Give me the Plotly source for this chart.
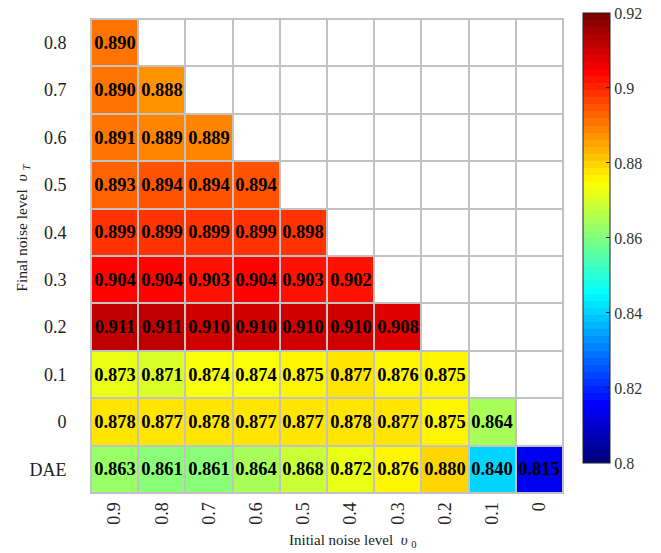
import plotly.graph_objects as go

x_labels = ["0.9", "0.8", "0.7", "0.6", "0.5", "0.4", "0.3", "0.2", "0.1", "0"]
y_labels = ["0.8", "0.7", "0.6", "0.5", "0.4", "0.3", "0.2", "0.1", "0", "DAE"]

row_08 = [0.890]
row_07 = [0.890, 0.888]
row_06 = [0.891, 0.889, 0.889]
row_05 = [0.893, 0.894, 0.894, 0.894]
row_04 = [0.899, 0.899, 0.899, 0.899, 0.898]
row_03 = [0.904, 0.904, 0.903, 0.904, 0.903, 0.902]
row_02 = [0.911, 0.911, 0.910, 0.910, 0.910, 0.910, 0.908]
row_01 = [0.873, 0.871, 0.874, 0.874, 0.875, 0.877, 0.876, 0.875]
row_00 = [0.878, 0.877, 0.878, 0.877, 0.877, 0.878, 0.877, 0.875, 0.864]
row_dae = [0.863, 0.861, 0.861, 0.864, 0.868, 0.872, 0.876, 0.880, 0.840, 0.815]

cbar_vals = [0.80, 0.82, 0.84, 0.86, 0.88, 0.90, 0.92]
cbar_text = ["0.8", "0.82", "0.84", "0.86", "0.88", "0.9", "0.92"]

rows = [row_08, row_07, row_06, row_05, row_04, row_03, row_02, row_01, row_00, row_dae]
n = len(x_labels)
z = [r + [None] * (n - len(r)) for r in rows]
txt = [["%.3f" % v for v in r] + [""] * (n - len(r)) for r in rows]

# MATLAB-like jet colormap, 64 discrete levels
def jet(t):
    def c(v):
        return max(0.0, min(1.0, v))
    r = c(1.5 - abs(4 * t - 3))
    g = c(1.5 - abs(4 * t - 2))
    b = c(1.5 - abs(4 * t - 1))
    return "rgb(%d,%d,%d)" % (round(r * 255), round(g * 255), round(b * 255))

N = 64
cs = []
for i in range(N):
    col = jet(i / (N - 1))
    cs.append([i / N, col])
    cs.append([(i + 1) / N, col])

FONT = "Liberation Serif, Times New Roman, serif"

fig = go.Figure()
fig.add_trace(go.Heatmap(
    x=x_labels, y=y_labels, z=[[0] * n for _ in y_labels],
    colorscale=[[0, "white"], [1, "white"]], showscale=False,
    xgap=2, ygap=2, hoverinfo="skip",
))
fig.add_trace(go.Heatmap(
    x=x_labels, y=y_labels, z=z, text=txt,
    texttemplate="<b>%{text}</b>",
    textfont=dict(family=FONT, size=18.5, color="black"),
    colorscale=cs, zmin=0.80, zmax=0.92,
    xgap=2, ygap=2,
    colorbar=dict(
        x=1.0424, xanchor="left", xpad=0,
        y=1.0127, yanchor="top", ypad=0,
        len=450, lenmode="pixels",
        thickness=27, outlinewidth=1, outlinecolor="#222",
        tickvals=cbar_vals, ticktext=cbar_text,
        ticks="inside", ticklen=4, tickcolor="#222",
        tickfont=dict(family=FONT, size=16, color="#333"),
    ),
))

fig.update_layout(
    width=661, height=553,
    margin=dict(l=91, r=98, t=19, b=60, autoexpand=False),
    plot_bgcolor="#c2c2c2", paper_bgcolor="white",
    font=dict(family=FONT, color="#222"),
    xaxis=dict(type="category", categoryorder="array", categoryarray=x_labels,
               tickangle=-90, tickfont=dict(family=FONT, size=18, color="#222"),
               ticks="", showgrid=False, zeroline=False, automargin=False,
               showline=True, linecolor="#c2c2c2", linewidth=1, mirror=True,
               ticklabelstandoff=1),
    yaxis=dict(type="category", categoryorder="array", categoryarray=y_labels,
               autorange="reversed", tickfont=dict(family=FONT, size=18, color="#222"),
               ticks="", showgrid=False, zeroline=False, automargin=False,
               showline=True, linecolor="#c2c2c2", linewidth=1, mirror=True,
               ticklabelstandoff=20),
    annotations=[
        dict(text="Initial noise level  <i>υ</i> <sub>0</sub>", xref="paper", yref="paper",
             x=0.555, y=-0.101, showarrow=False, xanchor="center", yanchor="middle",
             font=dict(family=FONT, size=15, color="#222")),
        dict(text="Final noise level  <i>υ</i> <sub><i>T</i></sub>", xref="paper", yref="paper",
             x=-0.146, y=0.56, showarrow=False, xanchor="center", yanchor="middle",
             textangle=-90, font=dict(family=FONT, size=15.5, color="#222")),
    ],
)

fig.write_html("out.html", config={"displayModeBar": False},
               post_script="document.body.style.margin='0';document.body.style.overflow='hidden';")
